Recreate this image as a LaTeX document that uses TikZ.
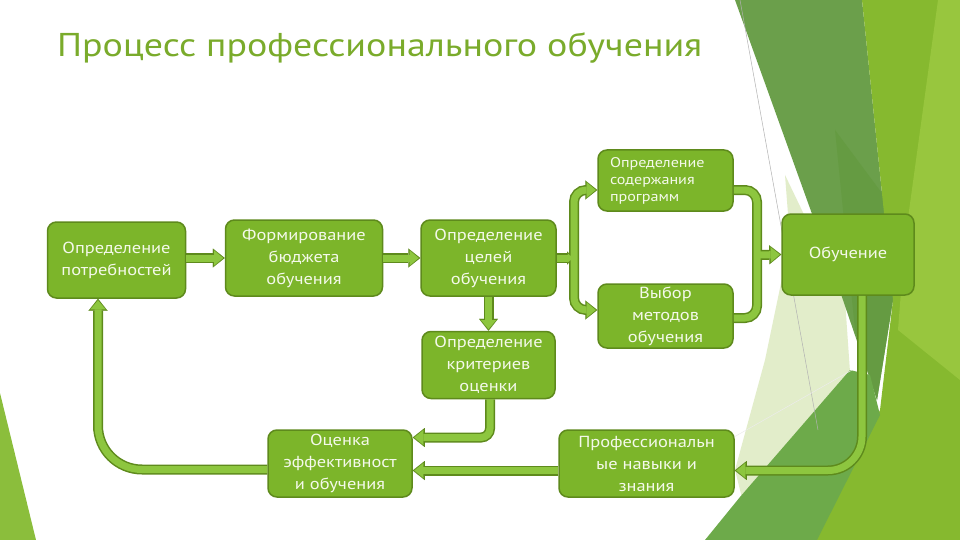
\documentclass[tikz,border=0pt]{standalone}
\usepackage{fontspec}
\setmainfont{PT Sans}[FakeStretch=1.15]
\usetikzlibrary{arrows.meta,calc}
\definecolor{boxfill}{HTML}{7CB52A}
\definecolor{boxline}{HTML}{5E8A1C}
\definecolor{boxtext}{HTML}{F4F9EA}
\definecolor{arrlight}{HTML}{8DC63F}
\definecolor{arrdark}{HTML}{5E8A1C}
\definecolor{titlegreen}{HTML}{7AAB2B}
\definecolor{bgmuted}{HTML}{6B9F4B}
\definecolor{bgdark}{HTML}{659B42}
\definecolor{bgbright}{HTML}{86B92F}
\definecolor{bglight}{HTML}{98C63E}
\definecolor{bgpale}{HTML}{E2EDCA}
\definecolor{bgmid}{HTML}{6DAA4A}
\definecolor{bgwedge}{HTML}{8BBE3C}
\begin{document}
\begin{tikzpicture}[x=1pt,y=-1pt,
  box/.style={draw=boxline, line width=1.5pt, fill=boxfill, rounded corners=9pt,
    text=boxtext, align=center, inner sep=0pt, font=\fontsize{16}{22}\selectfont},
  arrout/.style={line width=10pt, draw=arrdark, rounded corners=12pt,
    tipo/.style={-{Triangle[length=12pt,width=19pt,line width=0.01pt]}},
    tips/.style={-{Triangle[length=7pt,width=13pt,line width=0.01pt]}}},
  arrin/.style={line width=7pt, draw=arrlight, rounded corners=12pt,
    tipo/.style={-{Triangle[length=9pt,width=15pt,line width=0.01pt]}, shorten >=1.6pt},
    tips/.style={-{Triangle[length=5pt,width=9pt,line width=0.01pt]}, shorten >=1.2pt}}]
\useasboundingbox (0,0) rectangle (960,540);
\fill[white] (0,0) rectangle (960,540);
% background facets
\fill[bgwedge] (0,393) -- (36,540) -- (0,540) -- cycle;
\fill[bgpale] (785,175) -- (845,300) -- (850,372) -- (742,498) -- (735,470) -- (765,360) -- (790,240) -- cycle;
\fill[bgmuted] (735,0) -- (862,0) -- (893,300) -- (877,400) -- (843,300) -- cycle;
\fill[bgdark] (835,130) -- (887,200) -- (893,300) -- (877,400) -- (855,330) -- cycle;
\fill[bgbright] (862,0) -- (960,0) -- (960,540) -- (815,540) -- (880,410) -- (893,300) -- cycle;
\fill[bglight] (938,0) -- (960,0) -- (960,380) -- (898,330) -- (905,240) -- cycle;
\fill[bgmid] (705,540) -- (740,497) -- (850,370) -- (870,375) -- (880,415) -- (817,540) -- cycle;
\draw[gray!60, line width=0.5pt] (740,0) -- (818,430);
\draw[white!85!gray, line width=0.5pt] (690,462) -- (852,370);
% title
\node[anchor=base west, text=titlegreen, inner sep=0pt, font=\fontsize{33}{36}\selectfont] (title) at (57,57) {Процесс профессионального обучения};
% boxes
\node[box, minimum width=138pt, minimum height=76pt] (b1) at (116.5,260) {Определение\\потребностей};
\node[box, minimum width=157pt, minimum height=76pt] (b2) at (304,258) {Формирование\\бюджета\\обучения};
\node[box, minimum width=135pt, minimum height=76pt] (b3) at (488.5,258) {Определение\\целей\\обучения};
\node[box, minimum height=61pt, text width=111pt, inner xsep=12pt, align=left, font=\fontsize{14}{17}\selectfont] (b4) at (665.5,180.5) {Определение\\содержания\\программ};
\node[box, minimum width=135pt, minimum height=64pt] (b5) at (665.5,316) {Выбор\\методов\\обучения};
\node[box, minimum width=133pt, minimum height=67pt] (b6) at (488.5,365) {Определение\\критериев\\оценки};
\node[box, minimum width=144pt, minimum height=67pt] (b7) at (340,463.5) {Оценка\\эффективност\\и обучения};
\node[box, minimum width=175pt, minimum height=67pt] (b8) at (646.5,463.5) {Профессиональн\\ые навыки и\\знания};
\node[box, minimum width=132pt, minimum height=81pt] (b9) at (848,254.5) {Обучение};
\coordinate (s1) at (574,258);
\coordinate (s2) at (757,255);
% connectors
\foreach \pass in {arrout,arrin}{
  \draw[\pass,tipo] (b1.east |- b2.west) -- (b2.west);
  \draw[\pass,tipo] (b2.east) -- (b3.west);
  \draw[\pass,tips] (b3.east) -- (s1);
  \draw[\pass,tipo] (s1) |- ([yshift=-9.5pt]b4.west);
  \draw[\pass,tipo] (s1) |- ([yshift=6pt]b5.west);
  \draw[\pass] ([yshift=-9.5pt]b4.east) -| (s2);
  \draw[\pass] ([yshift=-2pt]b5.east) -| (s2);
  \draw[\pass,tipo] (s2) -- (b9.west);
  \draw[\pass,tipo,rounded corners=34pt] ([xshift=14pt]b9.south) |- ([yshift=-7pt]b8.east);
  \draw[\pass,tipo] ([yshift=-7pt]b8.west) -- ([yshift=-7pt]b7.east);
  \draw[\pass,tipo] (b3.south) -- (b6.north);
  \draw[\pass,tipo,rounded corners=9pt] ([xshift=1.5pt]b6.south) |- ([yshift=26pt]b7.east);
  \draw[\pass,tipo,rounded corners=44pt] ([yshift=-6pt]b7.west) -| ([xshift=-18.5pt]b1.south);
}
\end{tikzpicture}
\end{document}
